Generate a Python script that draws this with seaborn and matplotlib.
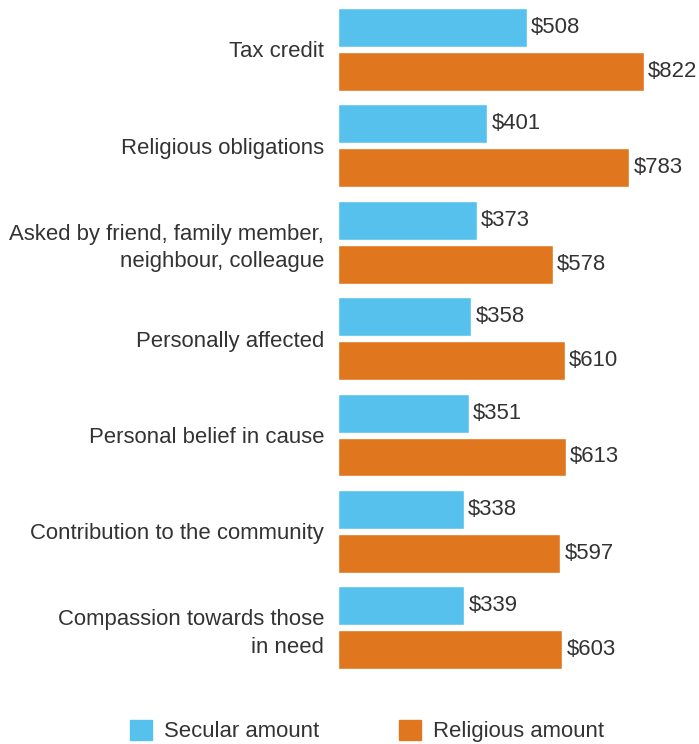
import pandas as pd
import matplotlib.pyplot as plt
import seaborn as sns
from matplotlib.patches import Patch

sns.set_style("white")
plt.rcParams['font.family'] = ['Liberation Sans', 'DejaVu Sans']

categories = [
    "Tax credit",
    "Religious obligations",
    "Asked by friend, family member,\nneighbour, colleague",
    "Personally affected",
    "Personal belief in cause",
    "Contribution to the community",
    "Compassion towards those\nin need",
]
secular = [508, 401, 373, 358, 351, 338, 339]
religious = [822, 783, 578, 610, 613, 597, 603]
series = ["Secular amount", "Religious amount"]
colors = ["#56C1EC", "#E0761E"]
text_color = "#333333"
fs = 15.9

df = pd.DataFrame({
    "reason": categories * 2,
    "amount": secular + religious,
    "type": [series[0]] * len(categories) + [series[1]] * len(categories),
})

fig = plt.figure(figsize=(6.99, 7.44), dpi=100)
ax = fig.add_axes([338 / 699, 1 - 680 / 744, 1 - 338 / 699, 680 / 744])

sns.barplot(data=df, y="reason", x="amount", hue="type", orient="h",
            palette=colors, width=0.912, gap=0.114, ax=ax, legend=False,
            saturation=1)

for cont in ax.containers:
    ax.bar_label(cont, labels=[f"${v:.0f}" for v in cont.datavalues],
                 padding=3, fontsize=fs, color=text_color)

ax.set_xlim(0, 970)
ax.set_ylim(6.54, -0.51)
ax.set_xticks([])
ax.set_xlabel("")
ax.set_ylabel("")
ax.tick_params(axis="y", length=0, pad=10, labelsize=fs, labelcolor=text_color)
for lbl in ax.get_yticklabels():
    lbl.set_horizontalalignment("right")
    lbl.set_multialignment("right")
    lbl.set_linespacing(1.4)
sns.despine(ax=ax, left=True, bottom=True)

handles = [Patch(facecolor=c, edgecolor=c, label=s) for c, s in zip(colors, series)]
fig.legend(handles=handles, loc="center", bbox_to_anchor=(367 / 699, 1 - 731 / 744),
           ncol=2, frameon=False, fontsize=fs, labelcolor=text_color,
           handlelength=1.0, handleheight=1.0, handletextpad=0.55,
           columnspacing=3.6)

fig.savefig("out.png", dpi=100)
